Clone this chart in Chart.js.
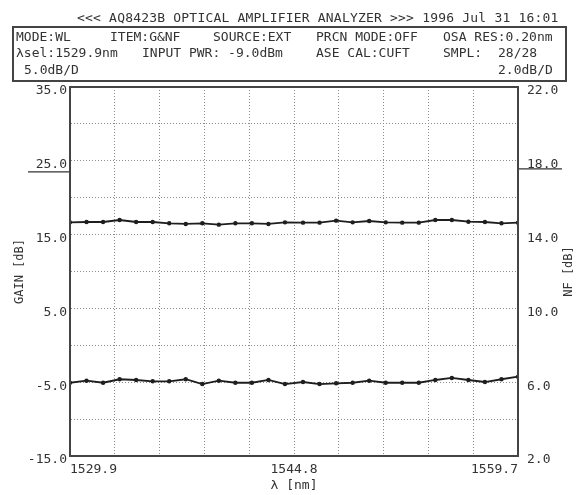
<!DOCTYPE html>
<html>
<head>
<meta charset="utf-8">
<script src="https://cdn.jsdelivr.net/npm/chart.js@4.4.1/dist/chart.umd.min.js"></script>
<style>
  html, body { margin:0; padding:0; background:#fff; }
  #wrap { position:relative; width:577px; height:495px; overflow:hidden; }
  #c { position:absolute; left:0; top:0; }
  .t { position:absolute; font-family:"DejaVu Sans Mono", monospace; font-size:13px; line-height:16px; color:#333; white-space:pre; }
  #box { position:absolute; left:12px; top:26px; width:551px; height:52px; border:2px solid #444; }
</style>
</head>
<body>
<div id="wrap">
  <canvas id="c" width="577" height="495"></canvas>
  <div id="box"></div>
  <div class="t" style="left:77px;top:10px;letter-spacing:0.2px;">&lt;&lt;&lt; AQ8423B OPTICAL AMPLIFIER ANALYZER &gt;&gt;&gt; 1996 Jul 31 16:01</div>
  <div class="t" style="left:16px;top:29px;">MODE:WL</div>
  <div class="t" style="left:110px;top:29px;">ITEM:G&amp;NF</div>
  <div class="t" style="left:213px;top:29px;">SOURCE:EXT</div>
  <div class="t" style="left:316px;top:29px;">PRCN MODE:OFF</div>
  <div class="t" style="left:443px;top:29px;">OSA RES:0.20nm</div>
  <div class="t" style="left:16px;top:45px;">λsel:1529.9nm</div>
  <div class="t" style="left:142px;top:45px;">INPUT PWR: -9.0dBm</div>
  <div class="t" style="left:316px;top:45px;">ASE CAL:CUFT</div>
  <div class="t" style="left:443px;top:45px;">SMPL:</div>
  <div class="t" style="left:498px;top:45px;">28/28</div>
  <div class="t" style="left:24px;top:62px;">5.0dB/D</div>
  <div class="t" style="left:498px;top:62px;">2.0dB/D</div>
</div>
<script>
// ---- data ----
const wavelengths = [1529.9, 1531.0, 1532.1, 1533.2, 1534.3, 1535.4, 1536.5, 1537.6, 1538.7, 1539.8,
                     1540.9, 1542.0, 1543.1, 1544.2, 1545.4, 1546.5, 1547.6, 1548.7, 1549.8, 1550.9,
                     1552.0, 1553.1, 1554.2, 1555.3, 1556.4, 1557.5, 1558.6, 1559.7];
const gainDb = [16.66, 16.71, 16.71, 16.98, 16.71, 16.71, 16.53, 16.44, 16.53, 16.35,
                16.53, 16.53, 16.44, 16.66, 16.62, 16.62, 16.89, 16.66, 16.84, 16.66,
                16.62, 16.62, 16.98, 16.98, 16.75, 16.71, 16.53, 16.62];
const nfDb = [5.97, 6.08, 5.97, 6.16, 6.12, 6.05, 6.05, 6.16, 5.90, 6.08,
              5.97, 5.97, 6.12, 5.90, 6.01, 5.90, 5.94, 5.97, 6.08, 5.97,
              5.97, 5.97, 6.12, 6.23, 6.12, 6.01, 6.16, 6.30];
const xTickLabels = ['1529.9', '', '', '', '', '1544.8', '', '', '', '', '1559.7'];
const gainTickLabels = ['35.0', '25.0', '15.0', '5.0', '-5.0', '-15.0'];
const nfTickLabels = ['22.0', '18.0', '14.0', '10.0', '6.0', '2.0'];
const gainRange = [-15, 35];
const nfRange = [2, 22];
const refGain = 25;
const refNF = 18;

const FONT = '"DejaVu Sans Mono", monospace';
const TXT = '#333';

const frame = {
  id: 'frame',
  afterDraw(chart) {
    const {ctx, chartArea: a, scales} = chart;
    ctx.save();
    ctx.setLineDash([]);
    ctx.strokeStyle = '#444';
    ctx.lineWidth = 2;
    ctx.strokeRect(a.left, a.top, a.right - a.left, a.bottom - a.top);
    // reference-level underlines
    ctx.lineWidth = 1.2;
    ctx.strokeStyle = '#333';
    const yg = scales.yGain.getPixelForValue(refGain) + 11;
    ctx.beginPath(); ctx.moveTo(28, yg); ctx.lineTo(a.left - 1, yg); ctx.stroke();
    const yn = scales.yNF.getPixelForValue(refNF) + 8;
    ctx.beginPath(); ctx.moveTo(a.right + 1, yn); ctx.lineTo(562, yn); ctx.stroke();
    // right axis title (reads bottom-to-top)
    ctx.translate(569, (a.top + a.bottom) / 2);
    ctx.rotate(-Math.PI / 2);
    ctx.font = '12px ' + FONT;
    ctx.fillStyle = TXT;
    ctx.textAlign = 'center';
    ctx.textBaseline = 'middle';
    ctx.fillText('NF [dB]', 0, 0);
    ctx.restore();
  }
};

const gridStyle = { color: '#8c8c8c', lineWidth: 1, drawTicks: false };
const gridBorder = { display: true, color: '#444', width: 2, dash: [1, 2] };

new Chart(document.getElementById('c'), {
  type: 'line',
  data: {
    datasets: [
      {
        label: 'GAIN',
        data: wavelengths.map((w, i) => ({x: w, y: gainDb[i]})),
        yAxisID: 'yGain',
        borderColor: '#1e1e1e', backgroundColor: '#1e1e1e',
        borderWidth: 1.8, pointRadius: 2.2, pointBorderWidth: 0, tension: 0
      },
      {
        label: 'NF',
        data: wavelengths.map((w, i) => ({x: w, y: nfDb[i]})),
        yAxisID: 'yNF',
        borderColor: '#1e1e1e', backgroundColor: '#1e1e1e',
        borderWidth: 1.8, pointRadius: 2.2, pointBorderWidth: 0, tension: 0
      }
    ]
  },
  options: {
    responsive: false,
    animation: false,
    devicePixelRatio: 1,
    layout: { padding: { top: 87, left: 0, right: 0, bottom: 0 } },
    plugins: { legend: { display: false }, tooltip: { enabled: false } },
    scales: {
      x: {
        type: 'linear', position: 'bottom',
        min: wavelengths[0], max: wavelengths[wavelengths.length - 1],
        afterBuildTicks(s) {
          const n = xTickLabels.length - 1;
          s.ticks = xTickLabels.map((_, i) => ({ value: s.min + (s.max - s.min) * i / n }));
        },
        afterFit(s) { s.height = 39; },
        grid: gridStyle,
        border: gridBorder,
        ticks: {
          autoSkip: false, maxRotation: 0, align: 'inner', padding: 6,
          color: TXT, font: { family: FONT, size: 13 },
          callback: (v, i) => xTickLabels[i]
        },
        title: { display: true, text: 'λ [nm]', color: TXT, font: { family: FONT, size: 13 }, padding: { top: 0, bottom: 2 } }
      },
      yGain: {
        type: 'linear', position: 'left',
        min: gainRange[0], max: gainRange[1],
        afterFit(s) { s.width = 70; },
        grid: gridStyle,
        border: gridBorder,
        ticks: {
          stepSize: 5, padding: 3, labelOffset: 4,
          color: TXT, font: { family: FONT, size: 13 },
          callback: (v) => {
            const k = (gainRange[1] - v) / 10;
            return Number.isInteger(k) ? gainTickLabels[k] : '';
          }
        },
        title: { display: true, text: 'GAIN [dB]', color: TXT, font: { family: FONT, size: 12 }, padding: { top: 13, bottom: 0 } }
      },
      yNF: {
        type: 'linear', position: 'right',
        min: nfRange[0], max: nfRange[1],
        afterFit(s) { s.width = 59; },
        grid: { drawOnChartArea: false, drawTicks: false },
        border: { display: true, color: '#444', width: 2 },
        ticks: {
          stepSize: 2, padding: 9, labelOffset: 4,
          color: TXT, font: { family: FONT, size: 13 },
          callback: (v) => {
            const k = (nfRange[1] - v) / 4;
            return Number.isInteger(k) ? nfTickLabels[k] : '';
          }
        }
      }
    }
  },
  plugins: [frame]
});
</script>
</body>
</html>
